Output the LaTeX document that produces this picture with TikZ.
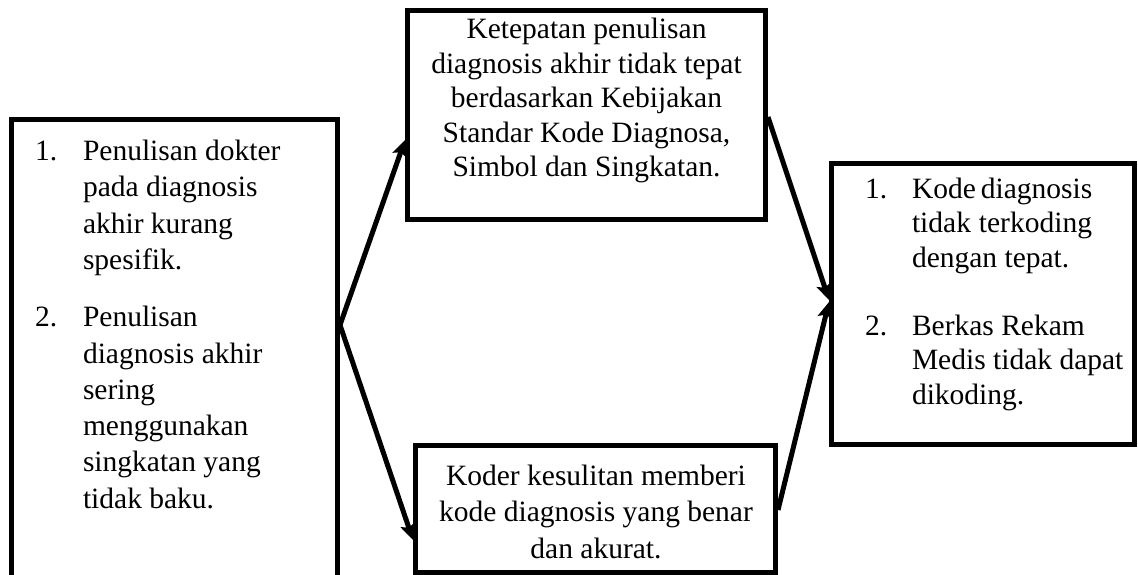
\documentclass[tikz,border=0pt]{standalone}
\usepackage{fontspec}
\setmainfont{Liberation Serif}
\usetikzlibrary{arrows.meta,calc}
\newcommand\leftlines[2]{\vtop{\baselineskip=#1\relax\halign{##\hfil\cr #2\crcr}}}
\newcommand\centerlines[2]{\vtop{\baselineskip=#1\relax\halign{\hfil##\hfil\cr #2\crcr}}}
\begin{document}
\begin{tikzpicture}[x=1pt,y=-1pt,
  box/.style={draw=black, line width=5pt, rectangle, inner sep=0pt, fill=white},
  txt/.style={inner sep=0pt, outer sep=0pt, font=\fontsize{29.5}{36}\selectfont},
  arr/.style={line width=5pt, -{Stealth[length=16pt,width=15pt,inset=3pt]}}]
\useasboundingbox (0,0) rectangle (1138,575);
\clip (0,0) rectangle (1138,575);
\fill[white] (0,0) rectangle (1138,575);
% boxes
\node[box, minimum width=326pt, minimum height=480.5pt] (L) at (174.5,359.75) {};
\node[box, minimum width=358pt, minimum height=209pt] (T) at (586.5,115) {};
\node[box, minimum width=360pt, minimum height=126.5pt] (B) at (595.5,508.75) {};
\node[box, minimum width=303pt, minimum height=281pt] (R) at (983,304) {};
% left box text
\node[txt, anchor=base west] (n1) at (35,160.7) {1.};
\node[txt, anchor=base west] (i1) at (83,160.7) {\leftlines{36.3pt}{Penulisan dokter\cr pada diagnosis\cr akhir kurang\cr spesifik.}};
\node[txt, anchor=base west] (n2) at (35,326.7) {2.};
\node[txt, anchor=base west] (i2) at (83,326.7) {\leftlines{36.3pt}{Penulisan\cr diagnosis akhir\cr sering\cr menggunakan\cr singkatan yang\cr tidak baku.}};
% top box text
\node[txt, anchor=base] (tt) at (586.5,39) {\centerlines{34.5pt}{Ketepatan penulisan\cr diagnosis akhir tidak tepat\cr berdasarkan Kebijakan\cr Standar Kode Diagnosa,\cr Simbol dan Singkatan.}};
% bottom box text
\node[txt, anchor=base] (bt) at (596,485) {\centerlines{36.5pt}{Koder kesulitan memberi\cr kode diagnosis yang benar\cr dan akurat.}};
% right box text
\node[txt, anchor=base west] (m1) at (865,198) {1.};
\node[txt, anchor=base west] (j1) at (912,198) {\leftlines{34.5pt}{\makebox[180pt][s]{Kode diagnosis}\cr \makebox[180pt][s]{tidak terkoding}\cr dengan tepat.}};
\node[txt, anchor=base west] (m2) at (865,335) {2.};
\node[txt, anchor=base west] (j2) at (912,335) {\leftlines{34.5pt}{Berkas Rekam\cr Medis tidak dapat\cr dikoding.}};
% connectors
\coordinate (ls) at ($(L.north east)+(0,208)$);
\coordinate (tin) at ($(T.north west)+(0,132)$);
\coordinate (bin) at ($(B.north west)+(0,97)$);
\coordinate (tout) at ($(T.north east)+(0,109)$);
\coordinate (bout) at ($(B.north east)+(0,67)$);
\coordinate (rin1) at ($(R.north west)+(0,139)$);
\coordinate (rin2) at ($(R.north west)+(0,141)$);
\draw[arr] (ls) -- (tin);
\draw[arr] (ls) -- (bin);
\draw[arr] (tout) -- (rin1);
\draw[arr] (bout) -- (rin2);
\end{tikzpicture}
\end{document}
